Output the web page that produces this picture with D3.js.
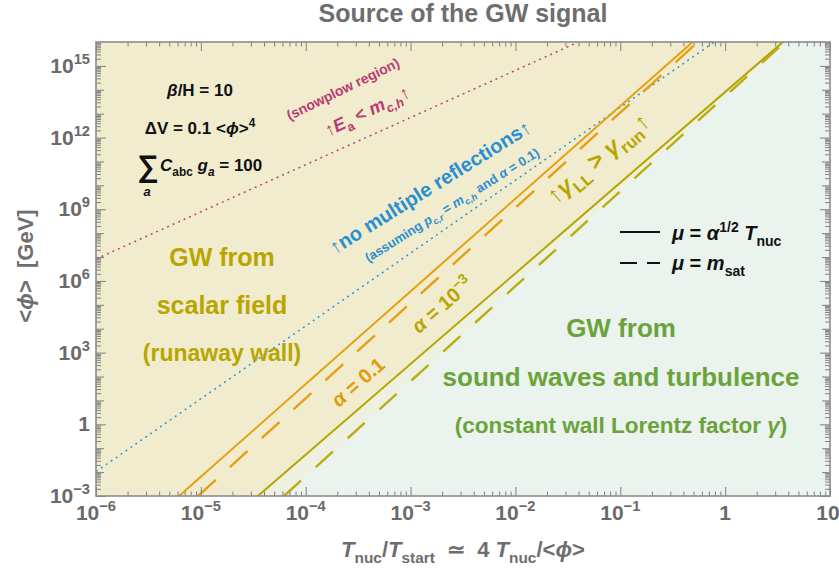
<!DOCTYPE html>
<html>
<head>
<meta charset="utf-8">
<script src="https://cdn.jsdelivr.net/npm/d3@7"></script>
<style>
body { margin: 0; background: #fff; }
svg text { font-family: "Liberation Sans", Arial, sans-serif; font-weight: bold; }
</style>
</head>
<body>
<div id="SVG_CONTAINER"></div>
<script>
// axis ranges and ticks
const xDomain = [1e-6, 10];
const yDomain = [1e-3, 1e16];
const xTickValues = [1e-6, 1e-5, 1e-4, 1e-3, 1e-2, 1e-1, 1, 10];
const xTickLabels = [["10", "−6"], ["10", "−5"], ["10", "−4"], ["10", "−3"], ["10", "−2"], ["10", "−1"], ["1", ""], ["10", ""]];
const yTickValues = [1e-3, 1, 1e3, 1e6, 1e9, 1e12, 1e15];
const yTickLabels = [["10", "−3"], ["1", ""], ["10", "3"], ["10", "6"], ["10", "9"], ["10", "12"], ["10", "15"]];

// each curve is a straight line in log-log, given by its two end points [T, <phi>]
const snowplowLine = [[1e-6, 8.3e6], [0.040, 1e16]];
const reflectionLine = [[1e-6, 0.0105], [0.79, 1e16]];
const alpha01Solid = [[6.2e-6, 1e-3], [0.49, 1e16]];
const alpha01Dashed = [[9.4e-6, 1e-3], [0.55, 1e16]];
const alpha1e3Solid = [[3.5e-5, 1e-3], [3.56, 1e16]];
const alpha1e3Dashed = [[6.2e-5, 1e-3], [3.72, 1e16]];

const MARGIN = { LEFT: 96, RIGHT: 9, TOP: 42, BOTTOM: 74 };
const width = 839, height = 570;

window.onload = function () {
    drawChart();
};

// append text made of pieces; flags: i = italic, b = subscript, p = superscript
function rich(sel, parts, size) {
    let shift = 0;
    parts.forEach(function (p) {
        let flags = p[1] || "";
        let target = flags.includes("b") ? size * 0.28 : flags.includes("p") ? -size * 0.42 : 0;
        let t = sel.append("tspan").attr("dy", target - shift).text(p[0]);
        if (flags.includes("b") || flags.includes("p")) t.attr("font-size", size * 0.7);
        if (flags.includes("i")) t.attr("font-style", "italic");
        shift = target;
    });
    return sel;
}

function label(svg, x, y, angle, parts, size, color, anchor) {
    let t = svg.append("text")
        .attr("transform", "translate(" + x + "," + y + ") rotate(" + angle + ")")
        .attr("y", size * 0.35)
        .attr("font-size", size)
        .attr("fill", color)
        .attr("text-anchor", anchor || "middle");
    return rich(t, parts, size);
}

drawChart = function () {
    let innerW = width - MARGIN.LEFT - MARGIN.RIGHT,
        innerH = height - MARGIN.TOP - MARGIN.BOTTOM;

    let svg = d3.select("#SVG_CONTAINER").append("svg")
        .attr("width", width).attr("height", height);

    let x = d3.scaleLog().domain(xDomain).range([MARGIN.LEFT, MARGIN.LEFT + innerW]);
    let y = d3.scaleLog().domain(yDomain).range([MARGIN.TOP + innerH, MARGIN.TOP]);

    svg.append("clipPath").attr("id", "plotclip")
        .append("rect")
        .attr("x", MARGIN.LEFT).attr("y", MARGIN.TOP)
        .attr("width", innerW).attr("height", innerH);

    let plot = svg.append("g").attr("clip-path", "url(#plotclip)");

    // background regions
    plot.append("rect")
        .attr("x", MARGIN.LEFT).attr("y", MARGIN.TOP)
        .attr("width", innerW).attr("height", innerH)
        .attr("fill", "#eaf3ee");

    let poly = d3.line().x(d => x(d[0])).y(d => y(d[1]));
    let yellowArea = [[xDomain[0], yDomain[0]], alpha1e3Solid[0], alpha1e3Solid[1], [xDomain[0], yDomain[1]]];
    let bandArea = [alpha1e3Solid[0], alpha1e3Solid[1], alpha1e3Dashed[1], alpha1e3Dashed[0]];
    plot.append("path").attr("d", poly(yellowArea) + "Z").attr("fill", "#f1ecce");
    plot.append("path").attr("d", poly(bandArea) + "Z").attr("fill", "#eef0e0");

    // curves
    let curves = [
        { pts: snowplowLine, color: "#b8447a", w: 1.5, dash: "2,4" },
        { pts: reflectionLine, color: "#2f93d0", w: 1.5, dash: "2,4" },
        { pts: alpha01Solid, color: "#e4a010", w: 2, dash: null },
        { pts: alpha01Dashed, color: "#e4a010", w: 2.4, dash: "24,19" },
        { pts: alpha1e3Solid, color: "#b6a500", w: 2, dash: null },
        { pts: alpha1e3Dashed, color: "#bbac10", w: 2.4, dash: "23,20" }
    ];
    curves.forEach(function (c) {
        plot.append("path")
            .attr("d", poly(c.pts))
            .attr("fill", "none")
            .attr("stroke", c.color)
            .attr("stroke-width", c.w)
            .attr("stroke-dasharray", c.dash);
    });

    // axes: minor and major ticks on all four sides, pointing inward
    let minorX = [], decadesY = [], minorY = [];
    for (let e = -6; e <= 0; e++) for (let k = 2; k <= 9; k++) minorX.push(k * Math.pow(10, e));
    for (let e = -3; e <= 15; e++) {
        if (e % 3 !== 0) decadesY.push(Math.pow(10, e));
        for (let k = 2; k <= 9; k++) minorY.push(k * Math.pow(10, e));
    }

    function tickGroup(axis, tx, ty) {
        let g = svg.append("g")
            .attr("transform", "translate(" + tx + "," + ty + ")")
            .call(axis);
        g.select(".domain").remove();
        g.selectAll("line").attr("stroke", "#808080").attr("stroke-width", 1);
        return g;
    }
    let bottomY = MARGIN.TOP + innerH, rightX = MARGIN.LEFT + innerW;
    tickGroup(d3.axisBottom(x).tickValues(minorX).tickSize(-4.5).tickFormat(""), 0, bottomY);
    tickGroup(d3.axisBottom(x).tickValues(xTickValues).tickSize(-9).tickFormat(""), 0, bottomY);
    tickGroup(d3.axisTop(x).tickValues(minorX).tickSize(-4.5).tickFormat(""), 0, MARGIN.TOP);
    tickGroup(d3.axisTop(x).tickValues(xTickValues).tickSize(-9).tickFormat(""), 0, MARGIN.TOP);
    [[d3.axisLeft, MARGIN.LEFT], [d3.axisRight, rightX]].forEach(function (a) {
        tickGroup(a[0](y).tickValues(minorY).tickSize(-5).tickFormat(""), a[1], 0);
        tickGroup(a[0](y).tickValues(decadesY).tickSize(-8).tickFormat(""), a[1], 0);
        tickGroup(a[0](y).tickValues(yTickValues).tickSize(-10).tickFormat(""), a[1], 0);
    });

    svg.append("rect")
        .attr("x", MARGIN.LEFT).attr("y", MARGIN.TOP)
        .attr("width", innerW).attr("height", innerH)
        .attr("fill", "none").attr("stroke", "#8c8c8c").attr("stroke-width", 1.6);

    // tick labels
    let tickColor = "#6a6a6a";
    xTickValues.forEach(function (v, i) {
        let t = svg.append("text")
            .attr("x", x(v) + (i === xTickValues.length - 1 ? -2 : 0)).attr("y", bottomY + 24)
            .attr("font-size", 21).attr("fill", tickColor)
            .attr("text-anchor", "middle");
        rich(t, [[xTickLabels[i][0]], [xTickLabels[i][1], "p"]], 21);
    });
    yTickValues.forEach(function (v, i) {
        let t = svg.append("text")
            .attr("x", MARGIN.LEFT - 6).attr("y", y(v) + 7)
            .attr("font-size", 21).attr("fill", tickColor)
            .attr("text-anchor", "end");
        rich(t, [[yTickLabels[i][0]], [yTickLabels[i][1], "p"]], 21);
    });

    // titles
    let titleColor = "#6e6e6e";
    svg.append("text")
        .attr("x", MARGIN.LEFT + innerW / 2).attr("y", 22)
        .attr("font-size", 25).attr("fill", titleColor)
        .attr("text-anchor", "middle")
        .text("Source of the GW signal");

    let xt = svg.append("text")
        .attr("x", MARGIN.LEFT + innerW / 2).attr("y", 557)
        .attr("font-size", 22).attr("fill", titleColor)
        .attr("text-anchor", "middle")
        .attr("xml:space", "preserve");
    rich(xt, [["T", "i"], ["nuc", "b"], ["/"], ["T", "i"], ["start", "b"], ["  ≃  4 "], ["T", "i"], ["nuc", "b"], ["/<"], ["ϕ", "i"], [">"]], 22);

    let yt = svg.append("text")
        .attr("transform", "translate(33,266) rotate(-90)")
        .attr("font-size", 22).attr("fill", titleColor)
        .attr("text-anchor", "middle")
        .attr("xml:space", "preserve");
    rich(yt, [["<"], ["ϕ", "i"], [">  [GeV]"]], 22);

    // parameter box
    let black = "#111";
    label(svg, 200, 90, 0, [["β", "i"], ["/H = 10"]], 17, black);
    label(svg, 200, 128, 0, [["ΔV = 0.1 <"], ["ϕ", "i"], [">"], ["4", "p"]], 17, black);
    label(svg, 148, 165, 0, [["∑"]], 30, black);
    label(svg, 147, 191, 0, [["a", "i"]], 13, black);
    label(svg, 160, 165, 0, [["C", "i"], ["abc", "b"], [" "], ["g", "i"], ["a", "bi"], [" = 100"]], 17, black, "start");

    // regions
    let olive = "#b8a600", green = "#6aa33a";
    label(svg, 222, 257, 0, [["GW from"]], 25, olive);
    label(svg, 222, 305, 0, [["scalar field"]], 25, olive);
    label(svg, 222, 353, 0, [["(runaway wall)"]], 23, olive);
    label(svg, 621, 328, 0, [["GW from"]], 26, green);
    label(svg, 621, 377, 0, [["sound waves and turbulence"]], 26, green);
    label(svg, 621, 425, 0, [["(constant wall Lorentz factor "], ["γ", "i"], [")"]], 22.5, green);

    // rotated line annotations
    let pink = "#b83c72", blue = "#2a8fd0", orange = "#e29a08";
    label(svg, 343, 89, -26, [["(snowplow region)"]], 14, pink);
    label(svg, 367, 111, -26, [["↑"], ["E", "i"], ["a", "b"], [" < "], ["m", "i"], ["c,h", "bi"], ["↑"]], 18, pink);
    label(svg, 430, 187, -32, [["↑no multiple reflections↑"]], 20, blue);
    label(svg, 452, 205, -32, [["(assuming "], ["p", "i"], ["c,r", "bi"], [" = "], ["m", "i"], ["c,h", "bi"], [" and "], ["α", "i"], [" = 0.1)"]], 13, blue);
    label(svg, 598, 158, -40, [["↑"], ["γ", "i"], ["LL", "b"], [" > "], ["γ", "i"], ["run", "b"], ["↑"]], 24, olive);
    label(svg, 358, 382, -41, [["α", "i"], [" = 0.1"]], 20, orange);
    label(svg, 442, 305, -41, [["α", "i"], [" = 10"], ["−3", "p"]], 20, olive);

    // legend
    svg.append("line").attr("x1", 620).attr("x2", 660).attr("y1", 232).attr("y2", 232)
        .attr("stroke", black).attr("stroke-width", 2);
    svg.append("line").attr("x1", 620).attr("x2", 660).attr("y1", 263).attr("y2", 263)
        .attr("stroke", black).attr("stroke-width", 2).attr("stroke-dasharray", "17,10");
    label(svg, 672, 233, 0, [["μ", "i"], [" = "], ["α", "i"], ["1/2", "p"], [" "], ["T", "i"], ["nuc", "b"]], 20, black, "start");
    label(svg, 672, 263, 0, [["μ", "i"], [" = "], ["m", "i"], ["sat", "b"]], 20, black, "start");
};
</script>
</body>
</html>
